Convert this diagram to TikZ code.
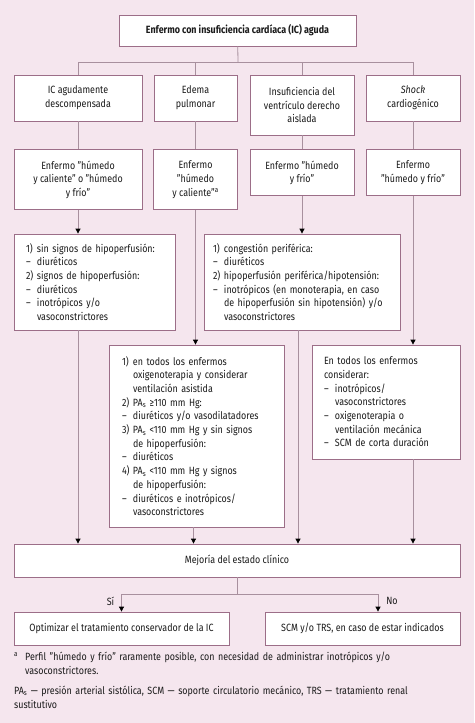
\documentclass[tikz,border=0pt]{standalone}
\usepackage{fontspec}
\setmainfont{Fira Sans}[FakeStretch=0.85]
\usetikzlibrary{positioning,arrows.meta,calc}
\definecolor{ICBack}{HTML}{F5E6EE}
\definecolor{ICFrame}{HTML}{9C6E88}
\definecolor{ICLine}{HTML}{A8909E}
\definecolor{ICText}{HTML}{1A1A1A}
\newcommand{\icfont}{\fontsize{10.5pt}{13.7pt}\selectfont}
\newcommand{\icitem}[1]{\makebox[11pt][l]{#1}}
\newcommand{\ichang}{\hspace*{11pt}}
\newcommand{\PAs}{PA\textsubscript{s}}
\tikzset{icbox/.style={draw=ICFrame, line width=0.8pt, fill=white, align=center, inner sep=0pt, font=\icfont, text=ICText}, iclist/.style={icbox, align=left, inner xsep=12pt}, iclink/.style={draw=ICLine, line width=0.8pt}, icarrow/.style={iclink, -{Triangle[width=5pt, length=5pt, color=black]}}, iclabel/.style={inner sep=0pt, font=\icfont, text=ICText}, icnote/.style={anchor=north west, align=left, inner sep=0pt, font=\icfont, text=ICText, text width=446pt}}

\begin{document}
\begin{tikzpicture}[x=1pt, y=-1pt]
\fill[ICBack] (0,0) rectangle (474,723);
\useasboundingbox (0,0) rectangle (474,723);
% entry
\node[icbox, minimum width=237pt, minimum height=31pt, font=\icfont\bfseries] (acute) at (237.5,30.5) {Enfermo con insuficiencia cardíaca (IC) aguda};
% clinical presentations
\node[icbox, minimum width=128pt, minimum height=46pt] (adhf) at (78,98) {IC agudamente\\descompensada};
\node[icbox, minimum width=83pt, minimum height=46pt] (edema) at (195.5,98) {Edema\\pulmonar};
\node[icbox, minimum width=104pt, minimum height=60pt] (rvf) at (302,105) {Insuficiencia del\\ventrículo derecho\\aislada};
\node[icbox, minimum width=94pt, minimum height=46pt] (shock) at (413,98) {\textit{Shock}\\cardiogénico};
% profiles
\node[icbox, minimum width=128pt, minimum height=60pt, below=28pt of adhf] (adhfprof) {Enfermo "húmedo\\y caliente" o "húmedo\\y frío"};
\node[icbox, minimum width=84pt, minimum height=60pt, below=28pt of edema] (edemaprof) {Enfermo\\"húmedo\\y caliente"\textsuperscript{a}};
\node[icbox, minimum width=104pt, minimum height=46pt, below=14pt of rvf] (rvfprof) {Enfermo "húmedo\\y frío"};
\node[icbox, minimum width=94pt, minimum height=46pt, below=28pt of shock] (shockprof) {Enfermo\\"húmedo y frío"};
% treatment
\node[iclist, minimum width=161pt, minimum height=96pt, text width=137pt] (adhftx) at (94.5,282) {\icitem{1)}sin signos de hipoperfusión:\\ \icitem{–}diuréticos\\ \icitem{2)}signos de hipoperfusión:\\ \icitem{–}diuréticos\\ \icitem{–}inotrópicos y/o\\ \ichang vasoconstrictores};
\node[iclist, inner xsep=9pt, minimum width=196pt, minimum height=96pt, text width=178pt] (rvftx) at (302,282) {\icitem{1)}congestión periférica:\\ \icitem{–}diuréticos\\ \icitem{2)}hipoperfusión periférica/hipotensión:\\ \icitem{–}inotrópicos (en monoterapia, en caso\\ \ichang de hipoperfusión sin hipotensión) y/o\\ \ichang vasoconstrictores};
\node[iclist, inner xsep=13pt, minimum width=175pt, minimum height=182pt, text width=149pt] (edematx) at (196.5,436) {\icitem{1)}en todos los enfermos\\ \ichang oxigenoterapia y considerar\\ \ichang ventilación asistida\\ \icitem{2)}\PAs{} ≥110 mm Hg:\\ \icitem{–}diuréticos y/o vasodilatadores\\ \icitem{3)}\PAs{} <110 mm Hg y sin signos\\ \ichang de hipoperfusión:\\ \icitem{–}diuréticos\\ \icitem{4)}\PAs{} <110 mm Hg y signos\\ \ichang de hipoperfusión:\\ \icitem{–}diuréticos e inotrópicos/\\ \ichang vasoconstrictores};
\node[iclist, minimum width=148pt, minimum height=114pt, text width=124pt] (shocktx) at (386,402) {En todos los enfermos\\considerar:\\ \icitem{–}inotrópicos/\\ \ichang vasoconstrictores\\ \icitem{–}oxigenoterapia o\\ \ichang ventilación mecánica\\ \icitem{–}SCM de corta duración};
% outcome
\node[icbox, minimum width=446pt, minimum height=33pt] (better) at (237,560.5) {Mejoría del estado clínico};
\node[icbox, minimum width=215pt, minimum height=33pt] (yes) at (121.5,628.5) {Optimizar el tratamiento conservador de la IC};
\node[icbox, minimum width=195pt, minimum height=33pt] (no) at (362.5,628.5) {SCM y/o TRS, en caso de estar indicados};
\coordinate (split) at (238,62);
\coordinate[below=17pt of better.south] (fork);
\coordinate (noin) at ($(no.north)+(15.5,0)$);
\node[iclabel] (yeslbl) at (110.5,601) {Sí};
\node[iclabel] (nolbl) at (392,601) {No};
% notes
\node[icnote] (fna) at (14,652) {\icitem{\textsuperscript{a}}Perfil "húmedo y frío" raramente posible, con necesidad de administrar inotrópicos y/o\\ \ichang vasoconstrictores.};
\node[icnote, below=11pt of fna.south west, anchor=north west] (fnb) {\PAs{} — presión arterial sistólica, SCM — soporte circulatorio mecánico, TRS — tratamiento renal\\sustitutivo};
% connectors
\draw[iclink] (acute) -- (split);
\draw[iclink] (split) -| (adhf);
\draw[iclink] (split) -| (edema);
\draw[iclink] (split) -| (rvf);
\draw[iclink] (split) -| (shock);
\draw[iclink] (adhf) -- (adhfprof);
\draw[iclink] (edema) -- (edemaprof);
\draw[iclink] (rvf) -- (rvfprof);
\draw[iclink] (shock) -- (shockprof);
\draw[icarrow] (adhfprof) -- (adhfprof.south |- adhftx.north);
\draw[icarrow] (edemaprof) -- (edemaprof.south |- edematx.north);
\draw[icarrow] (rvfprof) -- (rvftx);
\draw[icarrow] (shockprof) -- (shockprof.south |- shocktx.north);
\draw[icarrow] (adhfprof.south |- adhftx.south) -- (adhfprof.south |- better.north);
\draw[icarrow] ([xshift=-2pt]edemaprof.south |- edematx.south) -- ([xshift=-2pt]edemaprof.south |- better.north);
\draw[icarrow] ([xshift=-4pt]rvftx.south) -- ([xshift=-4pt]rvftx.south |- better.north);
\draw[icarrow] (shockprof.south |- shocktx.south) -- (shockprof.south |- better.north);
\draw[iclink] (better) -- (fork);
\draw[icarrow] (fork) -| (yes);
\draw[icarrow] (fork) -| (noin);
\end{tikzpicture}
\end{document}
